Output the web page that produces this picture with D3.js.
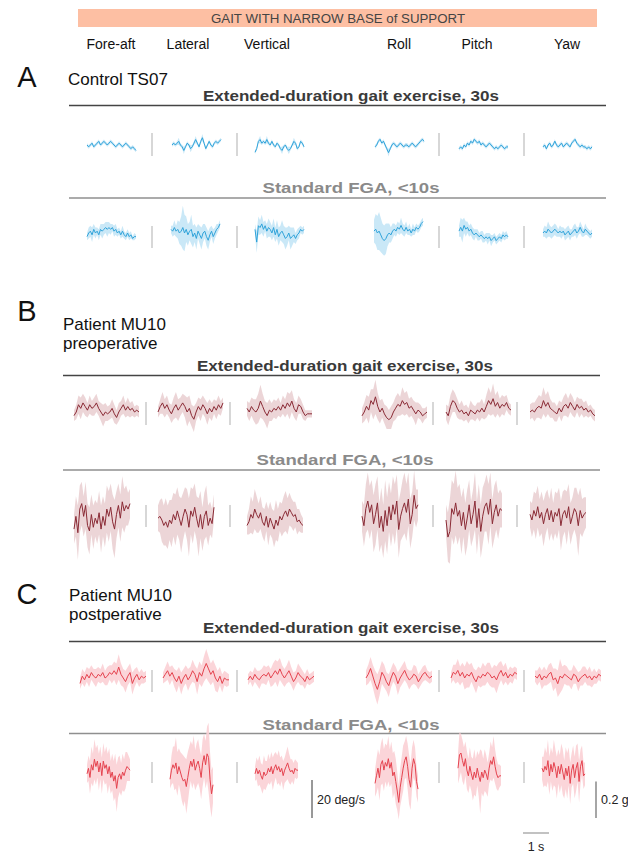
<!DOCTYPE html>
<html lang="en">
<head>
<meta charset="UTF-8">
<title>Gait with narrow base of support</title>
<script src="https://cdn.jsdelivr.net/npm/d3@7"></script>
<style>
  body { margin: 0; background: #fff; }
  svg { display: block; font-family: "Liberation Sans", Arial, sans-serif; }
  .sep { stroke: #bdbdbd; stroke-width: 1.2; }
</style>
</head>
<body>
<script>
// channel names, first three in g, last three in deg/s
var channels = ["Fore-aft", "Lateral", "Vertical", "Roll", "Pitch", "Yaw"];
var isRot = [false, false, false, true, true, true];

// Control TS07, extended-duration gait exercise (mean, sd)
var ctrlExtMean = [
  [0, -0.01, 0, 0.01, -0.01, 0, 0.01, 0.02, 0, 0.01, 0.02, 0.01, 0, 0.01, 0.02, 0.01, 0, -0.01, 0, 0.01, 0, -0.01, 0, 0.01, 0, -0.01, -0.02, -0.01, -0.02, -0.03],
  [0, 0.01, 0, 0.01, 0.02, 0, -0.01, -0.03, -0.01, 0.01, 0, -0.02, -0.01, 0.01, 0.03, 0.01, -0.01, 0.02, 0.04, 0.01, -0.02, 0, 0.02, 0, -0.01, 0.01, 0.02, 0.01, 0.02, 0.03],
  [-0.04, -0.02, 0.02, 0.03, 0.01, 0.02, 0.01, 0.03, 0.01, 0, 0.02, 0, -0.01, 0.01, 0, -0.02, -0.03, -0.01, 0, -0.02, -0.03, -0.02, 0, 0.02, 0.01, -0.02, -0.01, 0.02, 0.01, -0.01],
  [-1, 0, 2, 3, 1, 2, 0, -2, -4, -2, 0, 1, 0, -1, 0, 1, 0, -1, 0, 0, -1, 0, 1, 0, -1, 0, 1, 2, 3, 2],
  [-2, -1, -2, 0, -1, 1, 0, 2, 1, 3, 2, 1, 2, 0, 1, 0, -1, 0, 1, 0, -1, -2, -1, -2, -1, 0, -1, -2, -1, -1],
  [-1, 0, -2, 0, 1, -1, 0, 2, 0, -1, 0, 1, -1, 0, 1, 0, -1, 1, 2, 3, 1, 0, -1, 0, -1, -1, -2, -1, -2, -1]
];
var ctrlExtSd = [
  [0.01, 0.01, 0.01, 0.01, 0.01, 0.01, 0.01, 0.01, 0.01, 0.01, 0.01, 0.01, 0.01, 0.01, 0.01, 0.01, 0.01, 0.01, 0.01, 0.01, 0.01, 0.01, 0.01, 0.01, 0.01, 0.01, 0.01, 0.01, 0.01, 0.01],
  [0.01, 0.01, 0.01, 0.01, 0.02, 0.01, 0.01, 0.02, 0.01, 0.01, 0.01, 0.02, 0.01, 0.01, 0.02, 0.01, 0.01, 0.01, 0.02, 0.01, 0.01, 0.01, 0.01, 0.01, 0.01, 0.01, 0.01, 0.01, 0.01, 0.01],
  [0.01, 0.01, 0.01, 0.02, 0.01, 0.01, 0.01, 0.02, 0.01, 0.01, 0.01, 0.01, 0.01, 0.01, 0.01, 0.01, 0.02, 0.01, 0.01, 0.01, 0.02, 0.01, 0.01, 0.02, 0.01, 0.01, 0.01, 0.01, 0.01, 0.01],
  [1, 1, 1, 1, 1, 1, 1, 1, 2, 1, 1, 1, 1, 1, 1, 1, 1, 1, 1, 1, 1, 1, 1, 1, 1, 1, 1, 1, 1, 1],
  [1, 1, 1, 1, 1, 1, 1, 1, 1, 1, 1, 1, 1, 1, 1, 1, 1, 1, 1, 1, 1, 1, 1, 1, 1, 1, 1, 1, 1, 1],
  [1, 1, 1, 1, 1, 1, 1, 1, 1, 1, 1, 1, 1, 1, 1, 1, 1, 1, 1, 1, 1, 1, 1, 1, 1, 1, 1, 1, 1, 1]
];

// Control TS07, standard FGA
var ctrlFgaMean = [
  [-0.02, 0, 0.01, -0.01, 0.02, 0, 0.01, -0.01, 0.02, 0.01, 0.02, 0.03, 0.02, 0.03, 0.02, 0.03, 0.01, 0.02, 0, 0.01, -0.01, 0.01, -0.01, -0.02, 0, -0.02, -0.01, -0.03, -0.02, -0.02],
  [0.02, 0.01, 0.03, 0.01, 0.02, 0, 0.01, 0.03, 0, 0.02, -0.01, 0.01, 0.02, -0.02, 0, -0.03, 0.01, -0.01, -0.03, 0, 0.01, -0.02, -0.04, -0.01, 0.01, -0.02, 0, 0.02, 0.03, 0.05],
  [0.02, -0.05, 0.04, 0.03, 0.05, 0.02, 0.04, 0.01, 0.03, 0.02, 0, 0.03, -0.01, 0.02, -0.02, 0, 0.01, -0.01, -0.03, -0.02, 0, -0.03, -0.02, -0.01, -0.03, -0.01, 0, 0.02, 0.01, 0.02],
  [1, 2, 0, 1, -1, -3, -4, -3, -1, 0, -1, 1, 2, 1, 3, 2, 4, 2, 1, 3, 1, 2, 0, 2, 1, 3, 2, 3, 5, 6],
  [1, 3, 1, 4, 2, 3, 1, 2, 0, -1, 0, -1, -2, -1, -2, -3, -2, -3, -2, -4, -3, -2, -4, -3, -2, -3, -1, -2, -1, -2],
  [0, 1, 0, 2, 1, 0, 1, 2, 1, 0, 1, 0, 1, -1, 0, 1, -1, 0, 1, 2, 0, 1, 3, 1, 0, 2, 1, 0, -1, 0]
];
var ctrlFgaSd = [
  [0.02, 0.03, 0.03, 0.04, 0.03, 0.03, 0.02, 0.03, 0.03, 0.04, 0.03, 0.03, 0.04, 0.03, 0.03, 0.02, 0.03, 0.03, 0.02, 0.02, 0.02, 0.03, 0.02, 0.02, 0.02, 0.02, 0.02, 0.01, 0.02, 0.01],
  [0.02, 0.03, 0.04, 0.03, 0.05, 0.06, 0.08, 0.12, 0.10, 0.07, 0.06, 0.05, 0.08, 0.06, 0.05, 0.06, 0.04, 0.05, 0.06, 0.05, 0.04, 0.05, 0.05, 0.04, 0.03, 0.04, 0.03, 0.03, 0.02, 0.02],
  [0.03, 0.06, 0.05, 0.04, 0.05, 0.04, 0.03, 0.04, 0.05, 0.04, 0.04, 0.05, 0.04, 0.05, 0.05, 0.04, 0.06, 0.05, 0.06, 0.05, 0.04, 0.06, 0.05, 0.04, 0.03, 0.03, 0.03, 0.02, 0.02, 0.02],
  [6, 8, 9, 10, 9, 8, 8, 8, 6, 5, 4, 4, 3, 3, 3, 3, 4, 3, 3, 3, 2, 3, 2, 3, 2, 2, 2, 2, 2, 2],
  [3, 5, 6, 4, 4, 3, 3, 3, 3, 3, 2, 3, 2, 2, 3, 2, 2, 3, 2, 3, 2, 2, 2, 2, 2, 2, 2, 2, 2, 1],
  [2, 3, 3, 4, 3, 3, 3, 3, 3, 2, 3, 3, 2, 3, 3, 3, 3, 2, 3, 3, 3, 2, 3, 3, 2, 3, 2, 2, 2, 2]
];

// Patient MU10 preoperative, extended-duration
var preExtMean = [
  [-0.02, 0, 0.04, 0.02, 0.05, 0.03, 0.01, 0.04, 0.02, 0.03, 0.05, 0.02, 0, -0.02, 0, -0.01, 0, 0.02, -0.01, -0.03, 0, 0.02, 0.04, 0.01, 0.03, 0.01, 0.02, 0, 0.01, 0],
  [0, 0.03, 0.05, 0.02, 0.04, 0.01, -0.01, 0.02, 0.04, 0.01, 0.03, 0.05, 0.03, 0, 0.02, -0.02, -0.04, 0, 0.03, 0.01, 0.04, 0.02, -0.01, 0.02, 0, 0.03, 0.01, 0.04, 0.02, 0.05],
  [0.02, 0, 0.03, 0.01, 0, 0.02, 0.06, 0.03, 0, -0.02, 0.01, 0, 0.02, 0.01, 0.03, 0.01, 0.04, 0.02, 0.05, 0.03, 0.06, 0.02, 0, 0.04, 0.03, 0, -0.02, -0.01, -0.01, -0.01],
  [-2, 0, 3, 1, 6, 4, 8, 3, 0, 2, -1, -3, -4, -3, 0, 2, 4, 3, 6, 4, 5, 2, 3, 1, -1, 1, 0, -2, -1, 0],
  [0, -2, 3, 6, 5, 2, 0, 1, -1, 0, -2, 1, 0, -1, 1, 0, 2, 0, 3, 6, 4, 7, 3, 5, 2, 4, 3, 5, 2, 1],
  [0, 1, 0, 2, 3, 2, 6, 3, 5, 2, 1, 0, -1, 2, 0, 3, 4, 2, 5, 3, 1, 4, 2, 3, 1, 2, 0, 1, -1, -2]
];
var preExtSd = [
  [0.03, 0.04, 0.05, 0.06, 0.05, 0.05, 0.04, 0.05, 0.04, 0.05, 0.05, 0.04, 0.05, 0.06, 0.05, 0.04, 0.04, 0.05, 0.05, 0.04, 0.05, 0.04, 0.05, 0.04, 0.05, 0.04, 0.04, 0.03, 0.03, 0.03],
  [0.03, 0.04, 0.06, 0.05, 0.05, 0.04, 0.05, 0.06, 0.07, 0.06, 0.05, 0.05, 0.06, 0.08, 0.07, 0.06, 0.07, 0.05, 0.05, 0.06, 0.05, 0.05, 0.06, 0.05, 0.05, 0.04, 0.05, 0.05, 0.04, 0.03],
  [0.04, 0.05, 0.05, 0.06, 0.07, 0.08, 0.09, 0.07, 0.06, 0.07, 0.06, 0.05, 0.05, 0.05, 0.05, 0.04, 0.05, 0.05, 0.06, 0.07, 0.06, 0.05, 0.05, 0.05, 0.04, 0.04, 0.03, 0.02, 0.02, 0.02],
  [4, 5, 6, 7, 6, 8, 9, 7, 6, 5, 5, 6, 5, 6, 5, 6, 6, 5, 7, 6, 6, 5, 5, 5, 6, 4, 4, 4, 3, 3],
  [4, 5, 6, 6, 5, 5, 4, 5, 4, 4, 4, 5, 4, 4, 4, 5, 5, 4, 6, 7, 6, 8, 6, 6, 5, 5, 5, 4, 3, 3],
  [4, 4, 5, 5, 6, 6, 7, 6, 6, 5, 4, 5, 4, 4, 5, 5, 6, 5, 5, 5, 4, 4, 5, 4, 4, 4, 3, 3, 3, 3]
];

// Patient MU10 preoperative, standard FGA
var preFgaMean = [
  [-0.05, 0.02, -0.07, 0.06, 0.09, 0.02, 0.08, -0.03, -0.06, 0.03, -0.04, 0.01, -0.02, 0.04, -0.05, 0.02, -0.03, 0.06, 0.02, 0.07, -0.01, -0.05, 0.03, 0.08, 0.01, 0.1, 0.05, 0.08, 0.06, 0.09],
  [0.01, 0.02, 0, -0.03, -0.01, -0.04, 0, -0.02, 0.03, 0, 0.05, 0.01, -0.03, 0.02, 0.06, 0.03, -0.04, 0.05, 0.02, 0.07, 0.01, -0.04, 0.03, -0.05, 0.02, 0.05, -0.03, 0.01, -0.02, 0.07],
  [-0.03, -0.01, 0.03, 0.01, 0.06, 0.03, 0.01, 0.04, -0.01, -0.03, 0.02, -0.04, 0.01, -0.02, -0.05, 0, -0.03, 0.02, 0, 0.03, 0.05, 0.02, 0.06, 0.04, 0.02, 0.03, -0.01, 0, -0.02, -0.03],
  [2, -3, 6, 10, 4, 8, -2, 3, 9, -4, 2, -6, 5, -3, 7, 0, 8, 3, 10, -5, 2, 6, 9, 4, 11, -2, 3, 13, 6, 8],
  [0, -9, -6, 6, 3, 9, 2, 5, -3, 4, -5, 1, 8, -2, 3, 10, -4, 6, -6, 2, 7, 9, 3, 11, -2, 4, 8, 2, 6, 5],
  [3, 0, 5, 2, 7, 1, 4, -2, 3, 6, 0, 5, -1, 4, 2, 6, -3, 3, 5, 1, 7, -2, 2, 6, 4, -3, 5, 1, 3, 4]
];
var preFgaSd = [
  [0.08, 0.11, 0.15, 0.13, 0.12, 0.11, 0.13, 0.12, 0.13, 0.11, 0.12, 0.10, 0.11, 0.12, 0.13, 0.11, 0.12, 0.13, 0.14, 0.13, 0.15, 0.16, 0.13, 0.12, 0.13, 0.14, 0.12, 0.11, 0.09, 0.08],
  [0.07, 0.09, 0.12, 0.11, 0.13, 0.12, 0.11, 0.13, 0.12, 0.14, 0.13, 0.12, 0.15, 0.13, 0.12, 0.14, 0.16, 0.13, 0.15, 0.13, 0.12, 0.16, 0.13, 0.12, 0.13, 0.14, 0.11, 0.09, 0.08, 0.07],
  [0.05, 0.07, 0.10, 0.09, 0.11, 0.10, 0.08, 0.09, 0.08, 0.09, 0.08, 0.10, 0.09, 0.08, 0.10, 0.11, 0.09, 0.08, 0.09, 0.10, 0.11, 0.10, 0.09, 0.08, 0.08, 0.07, 0.07, 0.06, 0.05, 0.04],
  [8, 11, 13, 15, 14, 13, 15, 16, 14, 13, 15, 14, 16, 15, 13, 14, 15, 16, 14, 15, 13, 15, 16, 15, 14, 13, 12, 13, 10, 8],
  [8, 13, 17, 15, 16, 17, 15, 14, 15, 13, 14, 15, 13, 12, 13, 15, 14, 13, 14, 15, 13, 15, 16, 14, 13, 14, 13, 12, 10, 9],
  [7, 9, 10, 12, 11, 10, 11, 12, 11, 10, 11, 12, 10, 11, 12, 11, 13, 12, 11, 14, 12, 11, 10, 11, 13, 16, 12, 10, 9, 8]
];

// Patient MU10 postoperative, extended-duration
var postExtMean = [
  [-0.03, 0.01, -0.01, 0.02, 0, 0.03, 0.01, 0, 0.02, 0.01, 0.03, 0, 0.01, 0.03, 0.02, 0.04, 0.02, 0.06, 0.02, 0, -0.02, 0.01, 0.03, -0.03, 0, 0.02, -0.01, 0.01, 0, 0.01],
  [0, 0.02, 0.04, 0.01, 0.03, 0, -0.02, 0.01, -0.03, 0, 0.02, -0.01, 0.01, 0.04, 0.02, -0.02, 0.03, 0.01, 0.05, 0.08, 0.05, 0.02, 0.04, 0, -0.02, 0.01, -0.03, 0, -0.01, -0.01],
  [-0.01, 0.01, -0.01, 0.02, 0, -0.01, 0.01, 0.02, 0.01, 0.03, 0, 0.02, 0.04, 0.02, 0.05, 0.02, 0, 0.02, 0.04, 0.01, -0.02, 0, 0.03, 0.01, 0, -0.02, 0.01, -0.01, 0, 0.01],
  [0, 2, 5, 1, -3, -6, -2, 3, 1, -2, -4, 0, 3, 1, -3, 0, 2, 4, 1, -1, 0, 2, 1, -2, 0, 2, 3, 1, 0, 1],
  [0, 3, 2, 4, 1, 3, 0, 2, 1, 3, 0, -2, 1, 0, 2, 1, 3, 2, 0, 1, -1, 2, 4, 1, 3, 0, 2, 1, 3, 2],
  [1, 0, 2, -1, 1, 0, 2, 3, -1, 0, -3, 1, 0, 2, 1, 0, -1, 2, 1, -2, 0, 1, 2, 0, 1, -1, 1, 0, 2, 1]
];
var postExtSd = [
  [0.03, 0.04, 0.04, 0.04, 0.05, 0.04, 0.04, 0.05, 0.04, 0.04, 0.05, 0.04, 0.05, 0.04, 0.05, 0.05, 0.06, 0.07, 0.06, 0.05, 0.06, 0.05, 0.05, 0.06, 0.05, 0.04, 0.04, 0.04, 0.03, 0.03],
  [0.03, 0.04, 0.05, 0.05, 0.04, 0.05, 0.06, 0.05, 0.06, 0.05, 0.05, 0.06, 0.05, 0.06, 0.05, 0.07, 0.06, 0.06, 0.07, 0.08, 0.07, 0.06, 0.06, 0.07, 0.06, 0.05, 0.05, 0.04, 0.04, 0.03],
  [0.03, 0.03, 0.04, 0.04, 0.04, 0.05, 0.04, 0.05, 0.05, 0.04, 0.05, 0.06, 0.06, 0.07, 0.06, 0.05, 0.05, 0.05, 0.06, 0.05, 0.05, 0.04, 0.05, 0.05, 0.04, 0.04, 0.04, 0.03, 0.03, 0.03],
  [4, 5, 6, 6, 7, 8, 7, 6, 6, 5, 6, 5, 5, 5, 6, 5, 5, 5, 4, 5, 4, 5, 5, 4, 4, 4, 4, 3, 3, 3],
  [3, 4, 5, 6, 5, 5, 6, 7, 6, 5, 5, 6, 5, 5, 6, 5, 5, 6, 5, 6, 7, 6, 5, 5, 5, 4, 4, 4, 3, 3],
  [3, 4, 4, 5, 5, 4, 5, 5, 6, 5, 7, 9, 6, 5, 5, 4, 5, 5, 4, 5, 4, 5, 4, 4, 5, 4, 4, 3, 3, 3]
];

// Patient MU10 postoperative, standard FGA
var postFgaMean = [
  [-0.01, 0.02, -0.03, 0.04, 0.01, 0.07, 0.03, 0.06, 0, 0.05, -0.02, 0.06, 0.02, 0.04, -0.01, 0.03, -0.03, 0, -0.05, -0.02, -0.09, -0.03, -0.01, -0.04, 0, -0.02, 0.01, 0.03, 0.02, 0.01],
  [-0.04, 0.01, 0.04, 0.02, 0.05, -0.01, 0.03, 0, -0.03, -0.05, -0.04, -0.08, -0.03, 0.02, 0.06, 0.03, 0.07, 0.01, 0.04, 0.06, 0.02, -0.03, 0.05, 0.09, 0.04, 0.1, 0.08, -0.04, -0.12, -0.07],
  [-0.01, 0.02, -0.01, 0.01, -0.02, -0.04, 0, -0.02, -0.01, 0.02, 0, 0.03, -0.01, 0.02, 0.04, 0.01, 0.03, 0, 0.02, -0.02, 0.01, 0.03, 0.05, 0.02, 0, 0.01, -0.01, 0.02, 0.01, 0.01],
  [-6, -2, 2, -3, 4, 6, 1, 5, 3, 7, 2, 5, -2, 0, -5, -10, -16, -8, -3, 2, 6, 8, 3, -4, -8, 2, 7, 4, -5, -9],
  [2, 9, 10, 6, 3, 7, 1, -2, 3, -1, -4, 0, -3, 2, -2, -5, 0, -3, 1, -1, -4, 2, 6, 4, 8, 3, -1, -3, -2, -2],
  [2, 0, 3, 1, 6, -2, 4, 0, 5, 2, -3, 3, -1, 4, 0, -4, 2, -2, 3, -6, 1, 4, -3, 2, 5, -5, 3, 6, -2, -1]
];
var postFgaSd = [
  [0.05, 0.07, 0.09, 0.10, 0.09, 0.11, 0.10, 0.09, 0.10, 0.09, 0.10, 0.10, 0.09, 0.10, 0.11, 0.10, 0.09, 0.10, 0.11, 0.12, 0.13, 0.11, 0.10, 0.09, 0.10, 0.09, 0.10, 0.08, 0.07, 0.06],
  [0.05, 0.08, 0.10, 0.12, 0.14, 0.12, 0.10, 0.11, 0.13, 0.14, 0.12, 0.15, 0.14, 0.12, 0.11, 0.12, 0.13, 0.11, 0.12, 0.12, 0.11, 0.12, 0.13, 0.12, 0.13, 0.15, 0.19, 0.15, 0.13, 0.10],
  [0.04, 0.06, 0.07, 0.08, 0.07, 0.08, 0.09, 0.08, 0.07, 0.08, 0.07, 0.08, 0.09, 0.08, 0.07, 0.08, 0.09, 0.08, 0.07, 0.08, 0.07, 0.08, 0.09, 0.08, 0.07, 0.06, 0.06, 0.05, 0.05, 0.04],
  [7, 9, 10, 12, 11, 12, 11, 10, 11, 12, 10, 11, 12, 11, 12, 10, 9, 10, 11, 12, 10, 11, 12, 13, 12, 11, 10, 9, 8, 7],
  [8, 12, 10, 11, 10, 9, 10, 9, 10, 9, 11, 12, 10, 9, 11, 17, 11, 10, 11, 10, 9, 8, 10, 9, 11, 9, 8, 7, 6, 5],
  [6, 8, 10, 9, 11, 10, 9, 10, 12, 10, 11, 9, 10, 11, 12, 10, 11, 12, 10, 11, 9, 10, 11, 12, 10, 11, 9, 8, 7, 6]
];

// scale bars
var barDeg = 20, barG = 0.2, barSec = 1;

var W = 628, H = 854;
var pxPerG = 182, pxPerDeg = 1.9, pxPerSec = 26;

var svg = d3.select("body").append("svg")
    .attr("width", W)
    .attr("height", H);

// header band
svg.append("rect")
    .attr("x", 78).attr("y", 9)
    .attr("width", 519).attr("height", 18)
    .attr("fill", "#fdbfa3");
svg.append("text")
    .attr("x", 338).attr("y", 22.5)
    .attr("text-anchor", "middle")
    .attr("font-size", 12.5)
    .attr("textLength", 254)
    .attr("lengthAdjust", "spacingAndGlyphs")
    .attr("fill", "#444")
    .text("GAIT WITH NARROW BASE of SUPPORT");

// column labels
var labelX = [111, 188, 267, 399, 477, 567];
svg.selectAll(".chan")
    .data(channels)
    .enter().append("text")
    .attr("class", "chan")
    .attr("x", function(d, i) { return labelX[i]; })
    .attr("y", 49)
    .attr("text-anchor", "middle")
    .attr("font-size", 14)
    .attr("fill", "#111")
    .text(function(d) { return d; });

// panel layout
var panels = [
  {letter: "A", letterY: 87, title: ["Control TS07"], titleX: 68, titleY: 85,
   line: "#2fa3da", band: "#c4e6f6", x0: 69, x1: 606,
   rows: [
     {head: "Extended-duration gait exercise, 30s", headY: 101, ruleY: 105.5, dark: true,
      mean: ctrlExtMean, sd: ctrlExtSd, cy: 145, starts: [87, 172, 255, 375, 459, 543], w: 49,
      sepX: [152, 237, 439, 524], sepY: [133, 156]},
     {head: "Standard FGA, <10s", headY: 193, ruleY: 198, dark: false,
      mean: ctrlFgaMean, sd: ctrlFgaSd, cy: 233, starts: [87, 171, 255, 374, 459, 543], w: 49,
      sepX: [152, 237, 439, 524], sepY: [226, 248]}
   ]},
  {letter: "B", letterY: 321, title: ["Patient MU10", "preoperative"], titleX: 63, titleY: 330,
   line: "#8a2a35", band: "#ead0d3", x0: 63, x1: 600,
   rows: [
     {head: "Extended-duration gait exercise, 30s", headY: 371, ruleY: 375.5, dark: true,
      mean: preExtMean, sd: preExtSd, cy: 412, starts: [74, 158, 247, 362, 446, 530], w: 65,
      sepX: [146, 230, 433, 517], sepY: [402, 425]},
     {head: "Standard FGA, <10s", headY: 465, ruleY: 470, dark: false,
      mean: preFgaMean, sd: preFgaSd, cy: 520, starts: [74, 158, 247, 362, 446, 530], w: 56,
      sepX: [146, 230, 433, 517], sepY: [505, 527]}
   ]},
  {letter: "C", letterY: 604, title: ["Patient MU10", "postperative"], titleX: 69, titleY: 601,
   line: "#e5434f", band: "#fbd0d5", x0: 69, x1: 606,
   rows: [
     {head: "Extended-duration gait exercise, 30s", headY: 633, ruleY: 641.5, dark: true,
      mean: postExtMean, sd: postExtSd, cy: 678, starts: [80, 163, 248, 366, 451, 535], w: 66,
      sepX: [152, 237, 439, 524], sepY: [670, 692]},
     {head: "Standard FGA, <10s", headY: 730, ruleY: 733.5, dark: false,
      mean: postFgaMean, sd: postFgaSd, cy: 772, starts: [87, 170, 255, 375, 458, 542], w: 43,
      sepX: [152, 237, 439, 524], sepY: [762, 783]}
   ]}
];

panels.forEach(function(p) {
  var g = svg.append("g");

  g.append("text")
      .attr("x", 27).attr("y", p.letterY)
      .attr("text-anchor", "middle")
      .attr("font-size", 29)
      .attr("fill", "#111")
      .text(p.letter);

  p.title.forEach(function(t, i) {
    g.append("text")
        .attr("x", p.titleX).attr("y", p.titleY + i * 19)
        .attr("font-size", 17)
        .attr("fill", "#111")
        .text(t);
  });

  p.rows.forEach(function(r) {
    // headings sit a bit right of the rule's centre
    var mid = p.x0 + 282;
    g.append("text")
        .attr("x", mid).attr("y", r.headY)
        .attr("text-anchor", "middle")
        .attr("font-size", 15)
        .attr("font-weight", "bold")
        .attr("textLength", r.dark ? 296 : 177)
        .attr("lengthAdjust", "spacingAndGlyphs")
        .attr("fill", r.dark ? "#3a3a3a" : "#8a8a8a")
        .text(r.head);
    g.append("line")
        .attr("x1", p.x0).attr("x2", p.x1)
        .attr("y1", r.ruleY).attr("y2", r.ruleY)
        .attr("stroke", r.dark ? "#444" : "#8f8f8f")
        .attr("stroke-width", 1.6);

    g.selectAll(null)
        .data(r.sepX)
        .enter().append("line")
        .attr("class", "sep")
        .attr("x1", function(d) { return d; }).attr("x2", function(d) { return d; })
        .attr("y1", r.sepY[0]).attr("y2", r.sepY[1]);

    channels.forEach(function(c, ci) {
      var m = r.mean[ci], s = r.sd[ci];
      var k = isRot[ci] ? pxPerDeg : pxPerG;
      var x = d3.scaleLinear().domain([0, m.length - 1]).range([r.starts[ci], r.starts[ci] + r.w]);
      var y = d3.scaleLinear().domain([-1, 1]).range([r.cy + k, r.cy - k]);
      var pts = m.map(function(v, i) { return {i: i, m: v, s: s[i]}; });

      var area = d3.area()
          .x(function(d) { return x(d.i); })
          .y0(function(d) { return y(d.m - d.s); })
          .y1(function(d) { return y(d.m + d.s); });
      var line = d3.line()
          .x(function(d) { return x(d.i); })
          .y(function(d) { return y(d.m); });

      g.append("path")
          .datum(pts)
          .attr("d", area)
          .attr("fill", p.band)
          .attr("opacity", 0.9);
      g.append("path")
          .datum(pts)
          .attr("d", line)
          .attr("fill", "none")
          .attr("stroke", p.line)
          .attr("stroke-width", 1)
          .attr("stroke-linejoin", "round");
    });
  });
});

// scale bars
var yDeg = d3.scaleLinear().domain([0, 1]).range([818, 818 - pxPerDeg]);
var yG = d3.scaleLinear().domain([0, 1]).range([818, 818 - pxPerG]);
var xSec = d3.scaleLinear().domain([0, 1]).range([523, 523 + pxPerSec]);

svg.append("line")
    .attr("x1", 312).attr("x2", 312)
    .attr("y1", yDeg(0)).attr("y2", yDeg(barDeg))
    .attr("stroke", "#333").attr("stroke-width", 1);
svg.append("text")
    .attr("x", 317).attr("y", 804)
    .attr("font-size", 12.5).attr("fill", "#222")
    .text(barDeg + " deg/s");

svg.append("line")
    .attr("x1", 596).attr("x2", 596)
    .attr("y1", yG(0)).attr("y2", yG(barG))
    .attr("stroke", "#888").attr("stroke-width", 1.5);
svg.append("text")
    .attr("x", 601).attr("y", 804)
    .attr("font-size", 12.5).attr("fill", "#222")
    .text(barG + " g");

svg.append("line")
    .attr("x1", xSec(0)).attr("x2", xSec(barSec))
    .attr("y1", 833).attr("y2", 833)
    .attr("stroke", "#999").attr("stroke-width", 1.2);
svg.append("text")
    .attr("x", xSec(barSec / 2)).attr("y", 851)
    .attr("text-anchor", "middle")
    .attr("font-size", 12.5).attr("fill", "#222")
    .text(barSec + " s");
</script>
</body>
</html>
